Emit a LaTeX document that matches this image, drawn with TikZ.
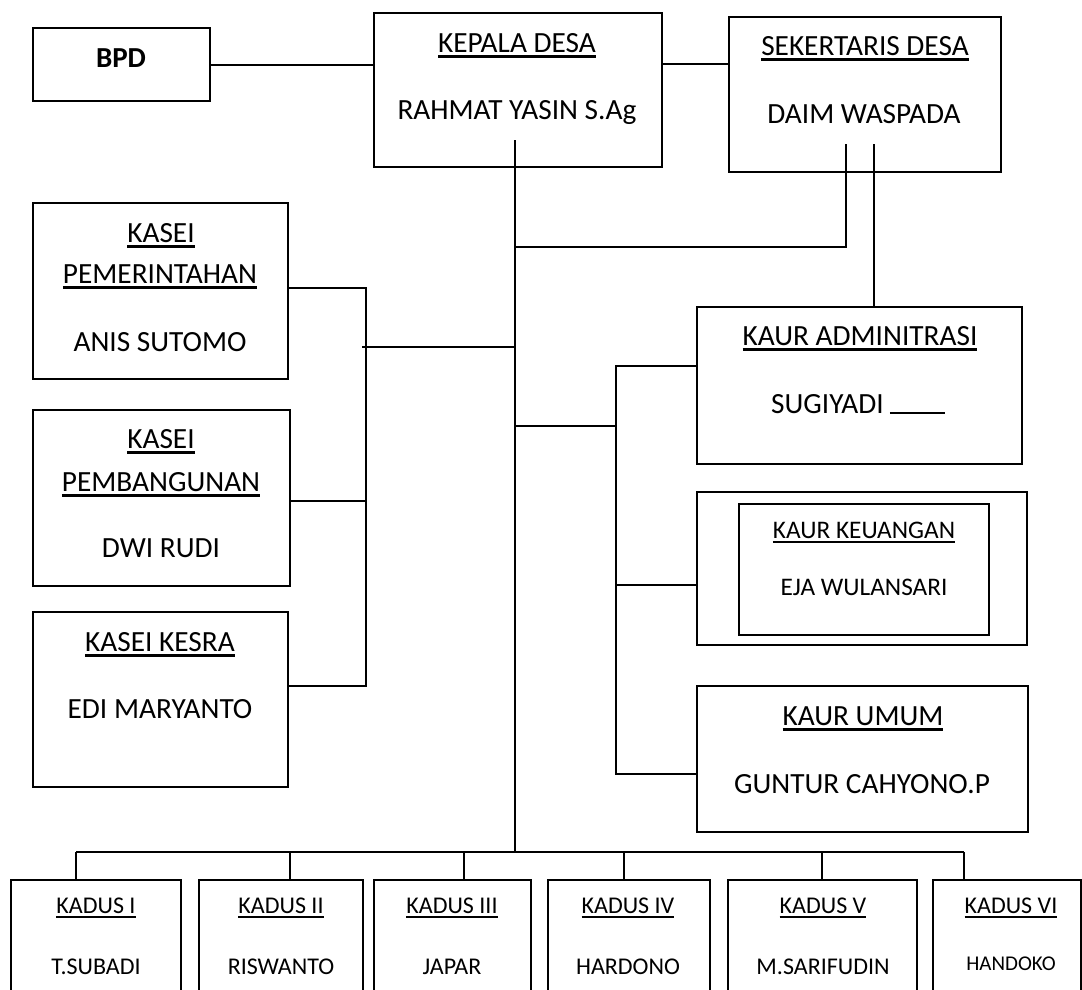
\documentclass[tikz,border=0pt]{standalone}
\usepackage{fontspec}
\setmainfont{Carlito}
\newcommand\ulbox[1]{\setbox0\hbox{#1}\rlap{\rule[-0.19em]{\wd0}{0.075em}}\box0}
\newcommand\mkbox[5]{\node[orgbox, minimum width={(#4-#2)*1pt}, minimum height={(#5-#3)*1pt}] (#1) at ({(#2+#4)/2},{(#3+#5)/2}) {};}
\tikzset{
  orgbox/.style={draw, line width=2pt, inner sep=0pt, outer sep=0pt, rectangle},
  conn/.style={line width=2pt},
  txt/.style={inner sep=0pt, anchor=base, font=\fontsize{29.3}{34}\selectfont},
  txtsm/.style={inner sep=0pt, anchor=base, font=\fontsize{25.3}{30}\selectfont},
  txtkd/.style={inner sep=0pt, anchor=base, font=\fontsize{24}{28}\selectfont},
}
\begin{document}
\begin{tikzpicture}[x=1pt,y=-1pt]
\useasboundingbox (0,0) rectangle (1082,989);
\clip (0,0) rectangle (1082,989);
\fill[white] (0,0) rectangle (1082,989);

% boxes
\mkbox{bpd}{33}{28}{210}{101}
\mkbox{kepala}{374}{13}{662}{167}
\mkbox{sek}{729}{17}{1001}{172}
\mkbox{kpem}{33}{203}{288}{379}
\mkbox{kpemb}{33}{410}{290}{586}
\mkbox{kkesra}{33}{612}{288}{787}
\mkbox{kadm}{697}{307}{1022}{464}
\mkbox{kkeu}{697}{492}{1027}{645}
\mkbox{kkeuin}{739}{504}{989}{635}
\mkbox{kumum}{697}{686}{1028}{832}
\mkbox{kd1}{11}{880}{181}{1040}
\mkbox{kd2}{199}{880}{363}{1040}
\mkbox{kd3}{374}{880}{531}{1040}
\mkbox{kd4}{548}{880}{710}{1040}
\mkbox{kd5}{728}{880}{917}{1040}
\mkbox{kd6}{933}{880}{1081}{1040}

% texts
\node[txt, font=\bfseries\fontsize{29}{34}\selectfont] (tbpd) at (121,67) {BPD};
\node[txt] (tkep1) at (517,52) {\ulbox{KEPALA DESA}};
\node[txt] (tkep2) at (517,119) {RAHMAT YASIN S.Ag};
\node[txt] (tsek1) at (865,55) {\ulbox{SEKERTARIS DESA}};
\node[txt] (tsek2) at (864,123) {DAIM WASPADA};
\node[txt] (tpem1) at (161,242) {\ulbox{KASEI}};
\node[txt] (tpem2) at (160,283) {\ulbox{PEMERINTAHAN}};
\node[txt] (tpem3) at (160,351) {ANIS SUTOMO};
\node[txt] (tpb1) at (161,448) {\ulbox{KASEI}};
\node[txt] (tpb2) at (161,491) {\ulbox{PEMBANGUNAN}};
\node[txt] (tpb3) at (161,557) {DWI RUDI};
\node[txt] (tks1) at (160,651) {\ulbox{KASEI KESRA}};
\node[txt] (tks2) at (160,718) {EDI MARYANTO};
\node[txt] (tadm1) at (860,345) {\ulbox{KAUR ADMINITRASI}};
\node[txt, anchor=base west] (tadm2) at (771,413) {SUGIYADI\hspace{6pt}\rule[-0.5pt]{55pt}{1.6pt}};
\node[txtsm] (tkeu1) at (864,538) {\ulbox{KAUR KEUANGAN}};
\node[txtsm] (tkeu2) at (864,595) {EJA WULANSARI};
\node[txt] (tum1) at (863,725) {\ulbox{KAUR UMUM}};
\node[txt] (tum2) at (862,793) {GUNTUR CAHYONO.P};
\node[txtkd] (tkd1a) at (96,913) {\ulbox{KADUS I}};
\node[txtkd] (tkd1b) at (96,974) {T.SUBADI};
\node[txtkd] (tkd2a) at (281,913) {\ulbox{KADUS II}};
\node[txtkd] (tkd2b) at (281,974) {RISWANTO};
\node[txtkd] (tkd3a) at (452,913) {\ulbox{KADUS III}};
\node[txtkd] (tkd3b) at (452,974) {JAPAR};
\node[txtkd] (tkd4a) at (628,913) {\ulbox{KADUS IV}};
\node[txtkd] (tkd4b) at (628,974) {HARDONO};
\node[txtkd] (tkd5a) at (823,913) {\ulbox{KADUS V}};
\node[txtkd] (tkd5b) at (823,974) {M.SARIFUDIN};
\node[txtkd] (tkd6a) at (1011,913) {\ulbox{KADUS VI}};
\node[txtkd, font=\fontsize{21}{25}\selectfont] (tkd6b) at (1011,970) {HANDOKO};

% connectors
\draw[conn] (bpd.east) -- (bpd.east -| kepala.west);
\coordinate (ks) at (695,64);
\draw[conn] (kepala.east |- ks) -- (sek.west |- ks);
\coordinate (tTop) at (515,140);
\coordinate (tBot) at (515,852);
\draw[conn] (tTop) -- (tBot);
\coordinate (s1) at (846,144);
\coordinate (s1b) at (846,247);
\draw[conn] (s1) -- (s1b) -- (s1b -| tTop);
\coordinate (s2) at (874,144);
\draw[conn] (s2) -- (s2 |- kadm.north);
% left bracket
\coordinate (lb1) at (366,288);
\coordinate (lb2) at (366,501);
\coordinate (lb3) at (366,686);
\draw[conn] (kpem.east |- lb1) -- (lb1) -- (lb3) -- (kkesra.east |- lb3);
\draw[conn] (kpemb.east |- lb2) -- (lb2);
\coordinate (lj) at (362,347);
\draw[conn] (lj) -- (lj -| tTop);
% right bracket
\coordinate (rb1) at (616,366);
\coordinate (rb2) at (616,585);
\coordinate (rb3) at (616,774);
\coordinate (rj) at (616,426);
\draw[conn] (kadm.west |- rb1) -- (rb1) -- (rb3) -- (kumum.west |- rb3);
\draw[conn] (rb2) -- (kkeu.west |- rb2);
\draw[conn] (rj -| tTop) -- (rj);
% bus to kadus
\coordinate (d1) at (76,852);
\coordinate (d2) at (290,852);
\coordinate (d3) at (464,852);
\coordinate (d4) at (624,852);
\coordinate (d5) at (822,852);
\coordinate (d6) at (964,852);
\draw[conn] (d1) -- (d6);
\draw[conn] (d1) -- (d1 |- kd1.north);
\draw[conn] (d2) -- (d2 |- kd2.north);
\draw[conn] (d3) -- (d3 |- kd3.north);
\draw[conn] (d4) -- (d4 |- kd4.north);
\draw[conn] (d5) -- (d5 |- kd5.north);
\draw[conn] (d6) -- (d6 |- kd6.north);
\end{tikzpicture}
\end{document}
